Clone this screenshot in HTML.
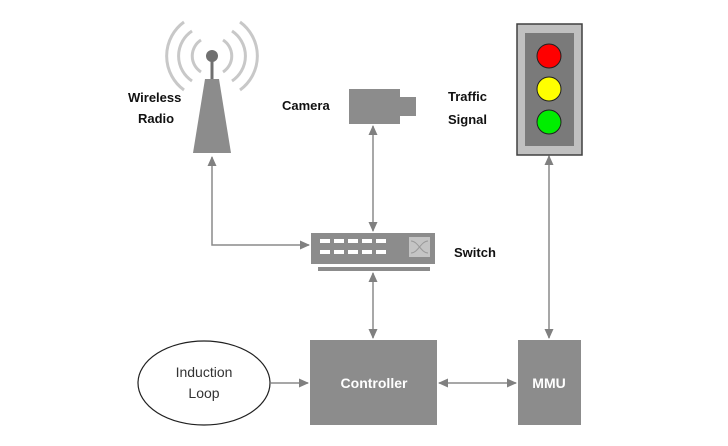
<!DOCTYPE html>
<html><head><style>
body{margin:0;background:#fff;}
svg text{font-family:"Liberation Sans",sans-serif;}
</style></head><body>
<svg width="728" height="441" viewBox="0 0 728 441" xmlns="http://www.w3.org/2000/svg">
<defs>
<marker id="a" markerWidth="10" markerHeight="10" refX="9" refY="5" orient="auto-start-reverse" markerUnits="userSpaceOnUse"><path d="M0,0.5 L10,5 L0,9.5 z" fill="#808080"/></marker>
</defs>
<g stroke="#8a8a8a" stroke-width="1.5" fill="none">
<polyline points="212,157 212,245 309,245" marker-start="url(#a)" marker-end="url(#a)"/>
<line x1="373" y1="126" x2="373" y2="231" marker-start="url(#a)" marker-end="url(#a)"/>
<line x1="373" y1="273" x2="373" y2="338" marker-start="url(#a)" marker-end="url(#a)"/>
<line x1="549" y1="156" x2="549" y2="338" marker-start="url(#a)" marker-end="url(#a)"/>
<line x1="439" y1="383" x2="516" y2="383" marker-start="url(#a)" marker-end="url(#a)"/>
<line x1="271" y1="383" x2="308" y2="383" marker-end="url(#a)"/>
</g>
<!-- antenna -->
<g fill="none" stroke="#c8c8c8" stroke-width="3">
<path d="M201,40 A19,19 0 0 0 201,72"/><path d="M223,40 A19,19 0 0 1 223,72"/>
<path d="M192,31 A30,30 0 0 0 192,81"/><path d="M232,31 A30,30 0 0 1 232,81"/>
<path d="M184,22 A42,42 0 0 0 184,90"/><path d="M240,22 A42,42 0 0 1 240,90"/>
</g>
<line x1="212" y1="57" x2="212" y2="80" stroke="#707070" stroke-width="3"/>
<circle cx="212" cy="56" r="6" fill="#707070"/>
<polygon points="205,79 219,79 231,153 193,153" fill="#8c8c8c"/>
<!-- camera -->
<rect x="349" y="89" width="51" height="35" fill="#8c8c8c"/>
<rect x="400" y="97" width="16" height="19" fill="#8c8c8c"/>
<!-- traffic light -->
<rect x="517" y="24" width="65" height="131" fill="#c0c0c0" stroke="#404040" stroke-width="1.5"/>
<rect x="525" y="33" width="49" height="113" fill="#7a7a7a"/>
<circle cx="549" cy="56" r="12" fill="#ff0000" stroke="#202020"/>
<circle cx="549" cy="89" r="12" fill="#ffff00" stroke="#202020"/>
<circle cx="549" cy="122" r="12" fill="#00ee00" stroke="#202020"/>
<!-- switch -->
<rect x="311" y="233" width="124" height="31" fill="#8c8c8c"/>
<rect x="318" y="267" width="112" height="4" fill="#8c8c8c"/>
<g fill="#ffffff">
<rect x="320" y="239" width="10" height="4"/><rect x="334" y="239" width="10" height="4"/><rect x="348" y="239" width="10" height="4"/><rect x="362" y="239" width="10" height="4"/><rect x="376" y="239" width="10" height="4"/>
<rect x="320" y="250" width="10" height="4"/><rect x="334" y="250" width="10" height="4"/><rect x="348" y="250" width="10" height="4"/><rect x="362" y="250" width="10" height="4"/><rect x="376" y="250" width="10" height="4"/>
</g>
<rect x="409" y="237" width="21" height="20" fill="#c4c4c4"/>
<path d="M411,241 C418,241 421,253 428,253 M411,253 C418,253 421,241 428,241" stroke="#9a9a9a" fill="none"/>
<!-- controller, mmu -->
<rect x="310" y="340" width="127" height="85" fill="#8c8c8c"/>
<rect x="518" y="340" width="63" height="85" fill="#8c8c8c"/>
<ellipse cx="204" cy="383" rx="66" ry="42" fill="#fff" stroke="#202020" stroke-width="1.2"/>
<g font-size="14" text-anchor="middle">
<text x="204" y="377" fill="#333">Induction</text>
<text x="204" y="398" fill="#333">Loop</text>
<text x="374" y="388" fill="#fff" font-weight="bold">Controller</text>
<text x="549" y="388" fill="#fff" font-weight="bold">MMU</text>
</g>
<g font-size="13" font-weight="bold" fill="#111">
<text x="128" y="102">Wireless</text>
<text x="138" y="123">Radio</text>
<text x="282" y="110">Camera</text>
<text x="448" y="101">Traffic</text>
<text x="448" y="124">Signal</text>
<text x="454" y="257">Switch</text>
</g>
</svg>
</body></html>
